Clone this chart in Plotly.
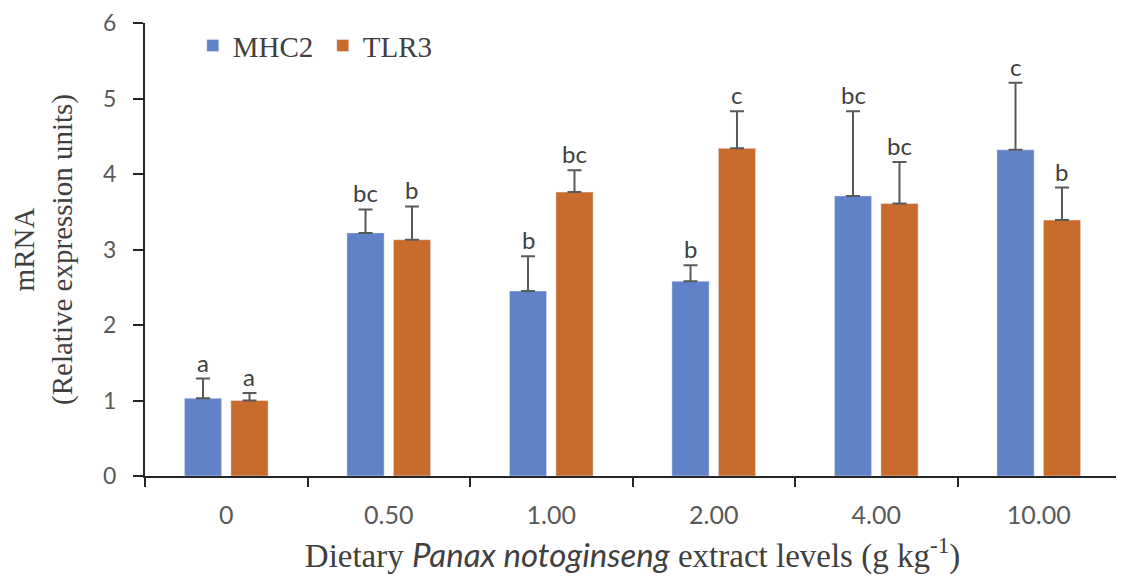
import plotly.graph_objects as go

categories = ["0", "0.50", "1.00", "2.00", "4.00", "10.00"]
mhc2 = [1.03, 3.22, 2.45, 2.58, 3.71, 4.32]
mhc2_err = [0.26, 0.31, 0.46, 0.21, 1.12, 0.89]
tlr3 = [1.00, 3.13, 3.76, 4.34, 3.61, 3.39]
tlr3_err = [0.10, 0.44, 0.29, 0.49, 0.55, 0.43]
mhc2_letters = ["a", "bc", "b", "b", "bc", "c"]
tlr3_letters = ["a", "b", "bc", "c", "bc", "b"]

BLUE = "#6082c9"
ORANGE = "#c86b2c"
SANS = "Lato, Carlito, 'Open Sans', sans-serif"
SERIF = "'Liberation Serif', 'Times New Roman', serif"

fig = go.Figure()
fig.add_trace(go.Bar(
    name="MHC2", x=categories, y=mhc2, marker_color=BLUE,
    error_y=dict(type="data", array=mhc2_err, symmetric=False, arrayminus=[0]*6,
                 color="#595959", thickness=2, width=7),
))
fig.add_trace(go.Bar(
    name="TLR3", x=categories, y=tlr3, marker_color=ORANGE,
    error_y=dict(type="data", array=tlr3_err, symmetric=False, arrayminus=[0]*6,
                 color="#595959", thickness=2, width=7),
))

annotations = []
for i, c in enumerate(categories):
    annotations.append(dict(x=i, y=mhc2[i] + mhc2_err[i], xref="x", yref="y",
                            text=mhc2_letters[i], showarrow=False, xshift=-23,
                            yanchor="bottom", yshift=0,
                            font=dict(family=SANS, size=24, color="#404040")))
    annotations.append(dict(x=i, y=tlr3[i] + tlr3_err[i], xref="x", yref="y",
                            text=tlr3_letters[i], showarrow=False, xshift=23,
                            yanchor="bottom", yshift=0,
                            font=dict(family=SANS, size=24, color="#404040")))

# page body has an 8px default margin; figure sized/offset to compensate
fig.update_layout(
    width=1116, height=572,
    margin=dict(l=137, r=4, t=15, b=104),
    paper_bgcolor="white", plot_bgcolor="white",
    barmode="group", bargap=0.428, bargroupgap=0.2,
    showlegend=True,
    legend=dict(orientation="h", x=0.049, y=0.95, xanchor="left", yanchor="middle",
                font=dict(family=SERIF, size=29, color="#404040"),
                entrywidth=85, entrywidthmode="pixels",
                itemwidth=30, traceorder="normal"),
    annotations=annotations,
    xaxis=dict(
        type="category", range=[-0.5, 5.5], automargin=False,
        showline=True, linecolor="#262626", linewidth=2,
        ticks="outside", tickson="boundaries", ticklen=9, tickwidth=2, tickcolor="#262626",
        tickfont=dict(family=SANS, size=25, color="#595959"),
        ticklabelstandoff=16,
        title=dict(text="Dietary <span style='font-family:Lato;font-style:italic'>Panax notoginseng</span> extract levels (g kg<sup>-1</sup>)",
                   font=dict(family=SERIF, size=33, color="#404040"), standoff=16),
        showgrid=False, zeroline=False,
    ),
    yaxis=dict(
        range=[0, 6], dtick=1, automargin=False,
        showline=True, linecolor="#262626", linewidth=2,
        ticks="outside", ticklen=10, tickwidth=2, tickcolor="#262626",
        tickfont=dict(family=SANS, size=23, color="#595959"),
        ticklabelstandoff=12, ticklabeloverflow="allow",
        title=dict(text="mRNA<br>(Relative expression units)",
                   font=dict(family=SERIF, size=29, color="#404040"), standoff=23),
        showgrid=False, zeroline=False,
    ),
)

fig.write_html("out.html")
